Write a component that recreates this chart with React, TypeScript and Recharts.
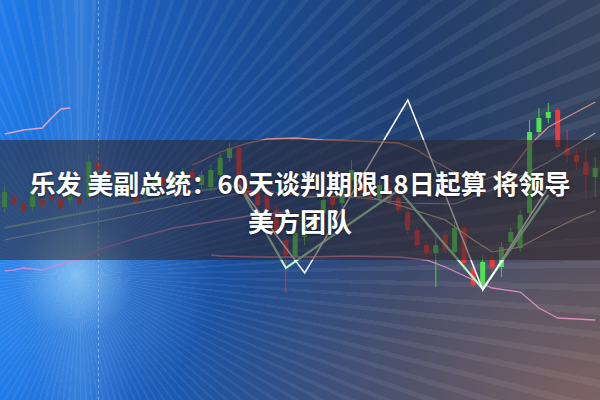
import React from "react";
import {
  ComposedChart,
  Bar,
  Line,
  XAxis,
  YAxis,
  ReferenceLine,
} from "recharts";

// candle values (64 sessions)
const opens = [
  20.8, 19.7, 18.8, 21.0, 19.5, 20.0, 19.2, 20.5, 19.6, 23.8, 23.0, 22.4, 22.0, 20.8, 19.7, 21.5,
  22.0, 21.4, 22.5, 22.8, 22.2, 22.5, 23.0, 24.2, 25.2, 20.8, 20.3, 19.5, 19.0, 16.5, 14.5, 16.7,
  17.3, 18.5, 20.0, 19.5, 21.0, 23.0, 20.8, 20.3, 21.5, 20.0, 19.0, 17.0, 15.5, 14.7, 15.5, 15.0,
  17.2, 13.7, 11.5, 13.8, 13.3, 15.3, 16.8, 18.5, 26.8, 28.2, 28.8, 25.3, 24.5, 23.8, 22.5, 23.2,
];
const closes = [
  19.3, 20.2, 19.7, 19.3, 20.0, 20.5, 20.0, 20.0, 20.2, 20.3, 23.7, 23.0, 21.0, 21.5, 21.0, 20.5,
  21.0, 22.2, 21.5, 21.8, 22.8, 21.5, 21.3, 22.5, 24.2, 25.2, 21.0, 20.8, 21.0, 19.0, 16.0, 14.3,
  16.3, 17.2, 18.7, 20.2, 19.7, 22.0, 21.4, 21.0, 20.2, 21.2, 20.2, 18.8, 17.0, 15.5, 14.7, 16.5,
  14.8, 17.2, 13.3, 11.3, 14.0, 13.3, 15.8, 15.2, 18.7, 26.8, 28.2, 29.0, 25.2, 24.5, 23.8, 22.3,
];
const highs = [
  21.5, 20.8, 20.2, 22.0, 20.5, 21.0, 20.4, 21.0, 20.6, 24.5, 24.2, 23.5, 22.4, 21.9, 21.5, 21.9,
  22.4, 22.6, 22.9, 23.2, 23.2, 22.9, 23.5, 24.7, 25.7, 25.4, 21.4, 21.2, 21.4, 19.4, 16.4, 17.2,
  18.0, 19.0, 20.4, 20.6, 21.5, 24.0, 21.8, 21.4, 22.0, 21.6, 20.6, 19.2, 17.4, 15.9, 16.3, 16.9,
  17.8, 17.4, 13.8, 14.5, 14.5, 15.8, 17.2, 19.0, 28.0, 29.2, 29.7, 29.2, 27.0, 25.2, 25.2, 24.3,
];
const lows = [
  18.8, 19.2, 18.4, 18.8, 19.0, 19.5, 18.8, 19.5, 19.2, 20.0, 22.5, 22.0, 20.6, 20.4, 19.3, 20.1,
  20.6, 21.0, 21.1, 21.4, 21.8, 21.1, 20.9, 22.1, 23.8, 20.3, 20.0, 19.2, 18.6, 16.2, 10.7, 13.8,
  15.5, 16.8, 18.3, 19.1, 19.3, 21.0, 20.4, 19.9, 19.8, 19.5, 18.6, 16.6, 15.1, 14.3, 11.3, 14.6,
  14.3, 13.0, 11.2, 10.8, 12.8, 12.3, 15.4, 14.8, 18.3, 26.3, 27.7, 25.0, 23.8, 23.0, 20.2, 20.3,
];

// indicator lines: [session, value] vertices
const pinkLeft = [[0, 26.6], [1, 26.8], [2, 27.0], [4, 27.2], [5, 28.2], [6, 29.1], [7, 29.2]];
const pinkTop = [
  [20, 23.5], [21, 23.9], [23, 24.8], [26, 25.7], [28, 26.1], [31, 26.2], [34, 26.0], [38, 25.9],
  [42, 25.7], [44, 25.0], [46, 23.8], [48, 22.8], [51, 22.0], [54, 23.0], [56, 25.5], [58, 27.3],
  [60, 28.3], [63, 29.8],
];
const paleWhite = [
  [0, 16.0], [1, 16.2], [12, 18.2], [20, 19.8], [27, 21.0], [32, 20.4], [38, 20.2], [43, 19.7],
  [48, 19.6], [53, 21.4], [58, 23.8], [63, 26.7],
];
const tan = [
  [32, 20.3], [33, 20.3], [36, 20.4], [39, 20.3], [43, 19.2], [47, 18.0], [50, 16.0], [52, 14.8],
  [55, 15.3], [58, 16.8], [61, 18.2], [63, 18.9],
];
const lavender = [
  [0, 12.9], [1, 13.0], [2, 13.2], [4, 13.0], [6, 13.6], [8, 14.0], [10, 15.0], [14, 16.2],
  [18, 17.2], [22, 17.8], [26, 18.4], [30, 18.8],
];
const pinkLow = [
  [22, 14.5], [23, 14.4], [27, 14.3], [32, 14.3], [37, 14.4], [42, 14.3], [45, 14.0], [47, 13.3],
  [50, 12.0], [52, 11.2], [55, 10.8], [57, 9.2], [59, 8.2], [63, 8.0],
];
const greenLeft = [[0, 17.2], [1, 17.4], [10, 19.0], [20, 20.8], [25, 21.5]];
const glow = [[25, 21.5], [26, 19.8], [30, 13.2], [42, 21.0], [51, 11.1], [58, 20.5]];
const zigzag = [[25, 21.5], [26, 20.2], [32, 12.7], [43, 30.0], [51, 11.0], [58, 21.3]];

const lineSets: Record<string, number[][]> = {
  pinkLeft, pinkTop, paleWhite, tan, lavender, pinkLow, greenLeft, glow, zigzag,
};

const data = opens.map((o, i) => {
  const row: any = {
    i,
    open: o,
    close: closes[i],
    high: highs[i],
    low: lows[i],
    range: [lows[i], highs[i]],
  };
  Object.keys(lineSets).forEach((k) => {
    const hit = lineSets[k].find((p) => p[0] === i);
    row[k] = hit ? hit[1] : null;
  });
  return row;
});

const UP = "#ec3b3b";
const DOWN = "#4fe354";

const Candle = (props: any) => {
  const { x, y, width, height, payload } = props;
  if (height == null || !payload) return null;
  const { open, close, high, low } = payload;
  const ratio = height / (high - low || 1);
  const top = y + (high - Math.max(open, close)) * ratio;
  const bh = Math.max(1.5, Math.abs(open - close) * ratio);
  const color = close > open ? UP : DOWN;
  const cx = x + width / 2;
  return (
    <g>
      <line x1={cx} x2={cx} y1={y} y2={y + height} stroke={color} strokeWidth={1} opacity={0.85} />
      <rect x={x} y={top} width={width} height={bh} fill={color} />
    </g>
  );
};

const bg = [
  "repeating-conic-gradient(from 0deg at 80px 275px, rgba(255,255,255,0.06) 0deg 0.8deg, rgba(255,255,255,0) 0.8deg 2.6deg)",
  "radial-gradient(circle at 75px 275px, rgba(170,225,255,0.65) 0px, rgba(120,190,255,0.2) 60px, rgba(0,0,0,0) 140px)",
  "linear-gradient(90deg, rgba(0,0,0,0) 35px, rgba(130,195,255,0.22) 80px, rgba(0,0,0,0) 130px)",
  "radial-gradient(ellipse 420px 260px at 100% 100%, rgba(150,110,100,0.75), rgba(0,0,0,0) 100%)",
  "linear-gradient(90deg, #1f7be9 0%, #1d63c6 18%, #1a4d98 42%, #213f70 68%, #36445f 100%)",
].join(", ");

const common = { dot: false, activeDot: false, connectNulls: true, isAnimationActive: false } as any;

export default function App() {
  return (
    <div
      style={{
        position: "absolute",
        left: 0,
        top: 0,
        width: 600,
        height: 400,
        overflow: "hidden",
        background: bg,
      }}
    >
      <ComposedChart
        width={600}
        height={400}
        data={data}
        margin={{ top: 0, right: 0, bottom: 0, left: 0 }}
        barCategoryGap="22%"
      >
        <XAxis dataKey="i" hide />
        <YAxis type="number" domain={[0, 40]} hide />
        <ReferenceLine x={10} stroke="rgba(190,225,255,0.5)" strokeDasharray="3 3" />
        <Bar dataKey="range" shape={<Candle />} isAnimationActive={false} />
        <Line dataKey="lavender" stroke="#c58ad8" strokeWidth={1.3} {...common} />
        <Line dataKey="pinkLow" stroke="#d68cbc" strokeWidth={1.3} {...common} />
        <Line dataKey="pinkLeft" stroke="#dca6cf" strokeWidth={1.5} {...common} />
        <Line dataKey="pinkTop" stroke="#cf8e86" strokeWidth={1.3} {...common} />
        <Line dataKey="tan" stroke="#dcc6a2" strokeWidth={1.1} {...common} />
        <Line dataKey="paleWhite" stroke="rgba(235,235,235,0.6)" strokeWidth={1.2} {...common} />
        <Line dataKey="greenLeft" stroke="rgba(170,230,190,0.55)" strokeWidth={1.8} {...common} />
        <Line dataKey="glow" stroke="#b2f6c8" strokeWidth={2.2} {...common} />
        <Line dataKey="zigzag" stroke="#ffffff" strokeWidth={1.5} {...common} />
      </ComposedChart>
      <div
        style={{
          position: "absolute",
          left: 0,
          top: 140,
          width: 600,
          height: 120,
          background: "rgba(48,36,38,0.55)",
        }}
      />
      <div
        style={{
          position: "absolute",
          left: 0,
          top: 164,
          width: 600,
          textAlign: "center",
          color: "#ffffff",
          fontFamily: "'Noto Sans CJK SC', 'Noto Sans', sans-serif",
          fontWeight: 700,
          fontSize: 26,
          lineHeight: "38px",
          textShadow: "0 1px 3px rgba(0,0,0,0.6)",
          whiteSpace: "nowrap",
        }}
      >
        <div>乐发 美副总统：60天谈判期限18日起算 将领导</div>
        <div>美方团队</div>
      </div>
    </div>
  );
}
